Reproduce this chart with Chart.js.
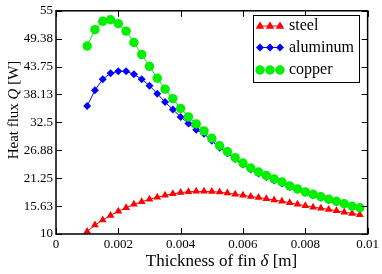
<!DOCTYPE html>
<html><head><meta charset="utf-8">
<script src="https://cdn.jsdelivr.net/npm/chart.js@4/dist/chart.umd.min.js"></script>
<style>html,body{margin:0;padding:0;background:#fff}#wrap{width:382px;height:274px}</style>
</head><body><div id="wrap"><canvas id="c" width="382" height="274"></canvas></div>
<script>
const thickness = [];
for (let i = 0; i < 36; i++) thickness.push(+(0.001 + 0.00025 * i).toFixed(5));
const steel = [10.5,11.8,12.8,13.75,14.6,15.3,16.0,16.5,17.0,17.4,17.8,18.1,18.35,18.5,18.6,18.6,18.55,18.45,18.25,18.0,17.8,17.55,17.35,17.1,16.85,16.6,16.3,16.0,15.7,15.4,15.2,14.95,14.7,14.4,14.15,13.9];
const aluminum = [35.8,39.0,41.2,42.4,42.8,42.8,42.2,41.2,39.9,38.3,36.6,35.1,33.6,32.3,31.0,30.2,28.8,27.4,26.3,25.1,24.0,23.0,22.2,21.5,20.8,20.2,19.5,18.9,18.3,17.8,17.3,16.8,16.4,15.9,15.5,15.1];
const copper = [47.9,51.2,52.9,53.2,52.4,50.9,48.6,46.2,43.8,41.4,39.2,37.3,35.3,33.6,32.2,30.8,29.3,27.8,26.6,25.4,24.3,23.3,22.5,21.8,21.1,20.5,19.7,19.1,18.5,18.0,17.5,17.0,16.6,16.1,15.6,15.3];
const yTickValues = [10,15.625,21.25,26.875,32.5,38.125,43.75,49.375,55];
const yTickLabels = ['10','15.63','21.25','26.88','32.5','38.13','43.75','49.38','55'];
const xTickValues = [0,0.002,0.004,0.006,0.008,0.01];
const xTickLabels = ['0','0.002','0.004','0.006','0.008','0.01'];
const seriesNames = ['steel','aluminum','copper'];

const FONT = 'Liberation Serif';
const mk = (arr) => thickness.map((x, i) => ({x, y: arr[i]}));

function mixedText(ctx, parts, size, startX, y) {
  let x = startX;
  parts.forEach(([t, it]) => {
    ctx.font = `${it ? 'italic ' : ''}${size}px "${FONT}"`;
    ctx.fillText(t, x, y);
    x += ctx.measureText(t).width;
  });
}
function mixedWidth(ctx, parts, size) {
  let w = 0;
  parts.forEach(([t, it]) => { ctx.font = `${it ? 'italic ' : ''}${size}px "${FONT}"`; w += ctx.measureText(t).width; });
  return w;
}

const decor = {
  id: 'decor',
  afterDraw(chart) {
    const ctx = chart.ctx, a = chart.chartArea;
    const xs = chart.scales.x, ys = chart.scales.y;
    ctx.save();
    ctx.strokeStyle = '#000';
    ctx.lineWidth = 1.5;
    ctx.strokeRect(a.left, a.top, a.right - a.left, a.bottom - a.top);
    ctx.lineWidth = 1;
    ctx.beginPath();
    xTickValues.forEach(v => {
      const p = Math.round(xs.getPixelForValue(v)) + 0.5;
      ctx.moveTo(p, a.bottom); ctx.lineTo(p, a.bottom - 6);
      ctx.moveTo(p, a.top); ctx.lineTo(p, a.top + 6);
    });
    yTickValues.forEach(v => {
      const p = Math.round(ys.getPixelForValue(v)) + 0.5;
      ctx.moveTo(a.left, p); ctx.lineTo(a.left + 6, p);
      ctx.moveTo(a.right, p); ctx.lineTo(a.right - 6, p);
    });
    ctx.stroke();
    // axis titles
    ctx.fillStyle = '#000';
    ctx.textBaseline = 'middle';
    ctx.textAlign = 'left';
    const xParts = [['Thickness of fin ', false], ['δ', true], [' [m]', false]];
    const xw = mixedWidth(ctx, xParts, 17);
    mixedText(ctx, xParts, 17, 221.5 - xw / 2, 262);
    ctx.save();
    ctx.translate(14, 110);
    ctx.rotate(-Math.PI / 2);
    const yParts = [['Heat flux ', false], ['Q', true], [' [W]', false]];
    const yw = mixedWidth(ctx, yParts, 15);
    mixedText(ctx, yParts, 15, -yw / 2, 0);
    ctx.restore();
    // legend
    const lx = 253.5, ly = 15.5, lw = 106, lh = 67;
    ctx.fillStyle = '#fff';
    ctx.fillRect(lx, ly, lw, lh);
    ctx.strokeStyle = '#000'; ctx.lineWidth = 1;
    ctx.strokeRect(lx, ly, lw, lh);
    const rows = [26, 47.5, 70];
    chart.data.datasets.forEach((ds, i) => {
      const ry = rows[i];
      ctx.strokeStyle = ds.borderColor; ctx.lineWidth = 1;
      ctx.beginPath(); ctx.moveTo(257, ry); ctx.lineTo(283, ry); ctx.stroke();
      ctx.fillStyle = ds.backgroundColor;
      [260, 270, 280].forEach(px => {
        const r = ds.pointRadius;
        ctx.beginPath();
        if (ds.pointStyle === 'circle') ctx.arc(px, ry, r, 0, Math.PI * 2);
        else if (ds.pointStyle === 'triangle') { ctx.moveTo(px, ry - r); ctx.lineTo(px + r * 0.95, ry + r * 0.6); ctx.lineTo(px - r * 0.95, ry + r * 0.6); ctx.closePath(); }
        else { ctx.moveTo(px, ry - r); ctx.lineTo(px + r, ry); ctx.lineTo(px, ry + r); ctx.lineTo(px - r, ry); ctx.closePath(); }
        ctx.fill();
      });
      ctx.fillStyle = '#000';
      ctx.font = `16px "${FONT}"`;
      ctx.fillText(ds.label, 289, ry);
    });
    ctx.restore();
  }
};

new Chart(document.getElementById('c'), {
  type: 'scatter',
  data: {
    datasets: [
      {label: seriesNames[0], data: mk(steel), showLine: true, borderColor: '#ff0000', backgroundColor: '#ff0000', borderWidth: 1, pointStyle: 'triangle', pointRadius: 4.5, pointBorderWidth: 0, order: 2},
      {label: seriesNames[1], data: mk(aluminum), showLine: true, borderColor: '#0000ff', backgroundColor: '#0000ff', borderWidth: 1, pointStyle: 'rectRot', pointRadius: 4, pointBorderWidth: 0, order: 1},
      {label: seriesNames[2], data: mk(copper), showLine: true, borderColor: '#00f000', backgroundColor: '#00f000', borderWidth: 1, pointStyle: 'circle', pointRadius: 4.7, pointBorderWidth: 0, order: 0}
    ]
  },
  options: {
    responsive: false, animation: false,
    layout: {padding: {top: 6, right: 14, left: 0, bottom: 0}},
    plugins: {legend: {display: false}, tooltip: {enabled: false}},
    scales: {
      x: {
        type: 'linear', min: 0, max: 0.01,
        afterBuildTicks: s => { s.ticks = xTickValues.map(v => ({value: v})); },
        afterFit: s => { s.height = 40; },
        ticks: {callback: (v, i) => xTickLabels[i], color: '#000', font: {family: FONT, size: 13}, padding: 3, maxRotation: 0, autoSkip: false},
        grid: {display: false, drawTicks: false}, border: {display: false}
      },
      y: {
        type: 'linear', min: 10, max: 55,
        afterBuildTicks: s => { s.ticks = yTickValues.map(v => ({value: v})); },
        afterFit: s => { s.width = 56; },
        ticks: {callback: (v, i) => yTickLabels[i], color: '#000', font: {family: FONT, size: 13}, padding: 3, autoSkip: false},
        grid: {display: false, drawTicks: false}, border: {display: false}
      }
    }
  },
  plugins: [decor]
});
</script></body></html>
